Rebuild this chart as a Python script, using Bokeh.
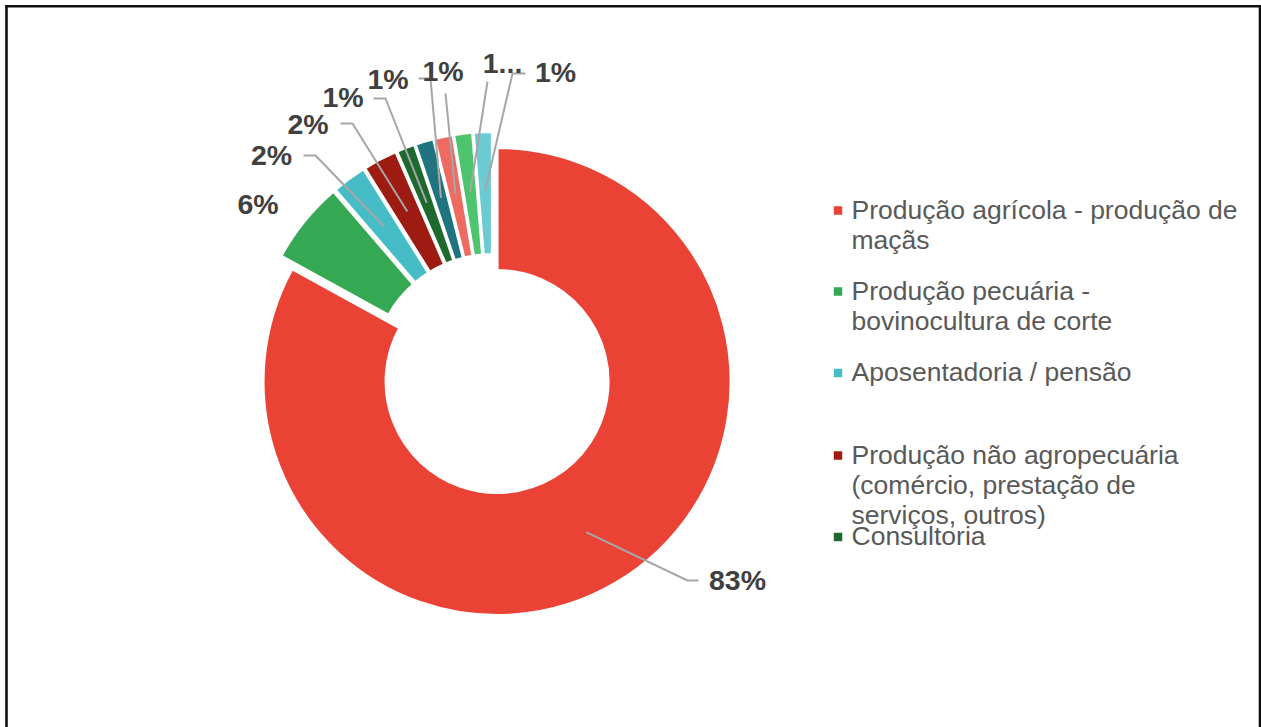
import math
from bokeh.plotting import figure
from bokeh.models import ColumnDataSource, Range1d
from bokeh.core.properties import value
from bokeh.embed import file_html
from bokeh.resources import INLINE

# ---------------- data ----------------
categories = [
    "Produção agrícola - produção de maçãs",
    "Produção pecuária - bovinocultura de corte",
    "Aposentadoria / pensão",
    "Produção não agropecuária (comércio, prestação de serviços, outros)",
    "Consultoria",
    "Outra fonte 1",
    "Outra fonte 2",
    "Outra fonte 3",
    "Outra fonte 4",
]
values = [83.0, 5.7, 2.4, 2.4, 1.3, 1.3, 1.3, 1.3, 1.3]
pct_labels = ["83%", "6%", "2%", "2%", "1%", "1%", "1%", "1...", "1%"]
colors = ["#EA4335", "#34A853", "#46BDC6", "#9E1B12", "#1E6A2E",
          "#1F7480", "#EF6A61", "#4FC46E", "#6CCAD3"]
legend_lines = [
    ["Produção agrícola - produção de", "maçãs"],
    ["Produção pecuária -", "bovinocultura de corte"],
    ["Aposentadoria / pensão"],
    ["Produção não agropecuária", "(comércio, prestação de", "serviços, outros)"],
    ["Consultoria"],
]

# ---------------- layout (screen pixel coordinates) ----------------
W, H = 1261, 727
def Y(sy):  # screen y -> data y
    return H - sy

CX, CY = 492.2, Y(373.6)
R_OUT, R_IN = 234.0, 111.0
EXPLODE = 8.6
LEADER_R = 175.0

LABEL_SHIFT = 12.0   # svg text baseline correction
LEGEND_SHIFT = 9.0

label_pos = [(737, 591), (257.5, 215), (271, 166), (307.5, 135), (342.5, 108),
             (387.5, 90), (442.5, 82), (502, 75), (555, 83)]
leader_tail = [[(687, 580), (698, 580)], None, [(315, 155), (303, 155)],
               [(352, 123), (340, 123)], [(385, 98), (373, 98)],
               [(430, 78), (418, 78)], [(445, 93)], [(487, 81)],
               [(512, 73), (525, 73)]]

legend_sq_y = [210, 291, 372.5, 455, 536.5]
LEG_SQ_X = 837.5
LEG_TX = 851
LEG_LH = 30

p = figure(width=W, height=H, output_backend="svg", toolbar_location=None,
           x_range=Range1d(0, W), y_range=Range1d(0, H),
           min_border=0, outline_line_color=None)
p.axis.visible = False
p.grid.visible = False
p.background_fill_color = "white"
p.border_fill_color = "white"

# ---------------- donut ----------------
total = sum(values)
cum = 0.0
xs, ys, starts, ends, mids = [], [], [], [], []
for v in values:
    a0 = cum / total * 2 * math.pi
    cum += v
    a1 = cum / total * 2 * math.pi
    m = (a0 + a1) / 2
    mids.append(m)
    xs.append(CX + EXPLODE * math.sin(m))
    ys.append(CY + EXPLODE * math.cos(m))
    starts.append(math.pi / 2 - a1)
    ends.append(math.pi / 2 - a0)

src = ColumnDataSource(dict(x=xs, y=ys, start=starts, end=ends, color=colors, cat=categories))
p.annular_wedge(x="x", y="y", inner_radius=R_IN, outer_radius=R_OUT,
                start_angle="start", end_angle="end", direction="anticlock",
                fill_color="color", line_color="white", line_width=3, source=src)

# ---------------- leader lines ----------------
lx, ly = [], []
for i, tail in enumerate(leader_tail):
    if tail is None:
        continue
    m = mids[i]
    px = xs[i] + LEADER_R * math.sin(m)
    py = ys[i] + LEADER_R * math.cos(m)
    lx.append([px] + [t[0] for t in tail])
    ly.append([py] + [Y(t[1]) for t in tail])
p.multi_line(xs=lx, ys=ly, line_color="#A6A6A6", line_width=2)

# ---------------- data labels ----------------
p.text(x=[q[0] for q in label_pos], y=[Y(q[1] - LABEL_SHIFT) for q in label_pos],
       text=pct_labels,
       text_font=value("Liberation Sans"), text_font_size="28.5px",
       text_font_style="bold", text_color="#404040",
       text_align="center", text_baseline="alphabetic")

# ---------------- legend ----------------
p.rect(x=[LEG_SQ_X] * len(legend_sq_y), y=[Y(v) for v in legend_sq_y],
       width=8.5, height=8.5, fill_color=colors[:len(legend_sq_y)], line_color=None)
tx, ty, tt = [], [], []
for i, lines in enumerate(legend_lines):
    for j, t in enumerate(lines):
        tx.append(LEG_TX)
        ty.append(Y(legend_sq_y[i] + 8.3 + j * LEG_LH - LEGEND_SHIFT))
        tt.append(t)
p.text(x=tx, y=ty, text=tt, text_font=value("Liberation Sans"),
       text_font_size="26.5px", text_color="#595959",
       text_align="left", text_baseline="alphabetic")

# ---------------- frame border (top, left, right) ----------------
p.multi_line(xs=[[5, 1261], [6, 6], [1259.5, 1259.5]],
             ys=[[Y(5.8), Y(5.8)], [Y(4.5), Y(H)], [Y(4.5), Y(H)]],
             line_color="#111111", line_width=2.6)

open("out.html", "w").write(file_html(p, INLINE))
